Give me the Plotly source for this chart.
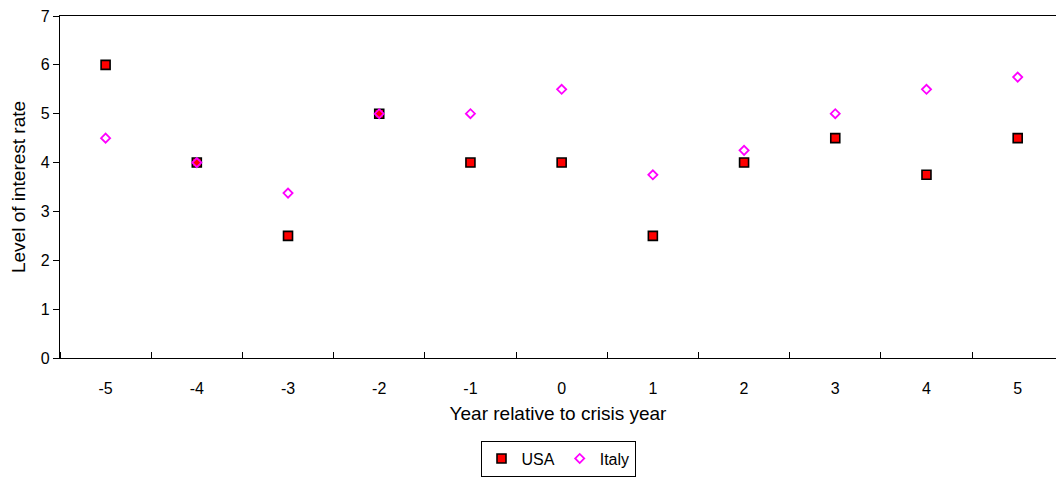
import plotly.graph_objects as go

years = [-5, -4, -3, -2, -1, 0, 1, 2, 3, 4, 5]
year_labels = ["-5", "-4", "-3", "-2", "-1", "0", "1", "2", "3", "4", "5"]
usa = [6, 4, 2.5, 5, 4, 4, 2.5, 4, 4.5, 3.75, 4.5]
italy = [4.5, 4, 3.375, 5, 5, 5.5, 3.75, 4.25, 5, 5.5, 5.75]

font_family = "Liberation Sans, Arial, sans-serif"

fig = go.Figure()
fig.add_trace(go.Scatter(
    x=years, y=usa, mode="markers", name="USA",
    marker=dict(symbol="square", size=9, color="#FF0000",
                line=dict(color="#000000", width=1.6)),
))
fig.add_trace(go.Scatter(
    x=years, y=italy, mode="markers", name="Italy",
    marker=dict(symbol="diamond-open", size=7, color="#FF00FF",
                line=dict(color="#FF00FF", width=1.8)),
))

fig.update_layout(
    width=1056, height=478,
    margin=dict(l=60, r=0, t=16, b=120),
    paper_bgcolor="white", plot_bgcolor="white",
    font=dict(family=font_family, size=16, color="black"),
    showlegend=True,
    legend=dict(
        orientation="h", x=0.5, xanchor="center",
        yref="container", y=0.003, yanchor="bottom",
        bordercolor="black", borderwidth=1, font=dict(size=16),
        itemwidth=30, tracegroupgap=0,
    ),
    xaxis=dict(
        range=[-5.5, 5.42], tickmode="array", tickvals=years, ticktext=year_labels,
        # invisible major ticks keep the category labels clear of the axis
        ticks="outside", ticklen=16, tickcolor="rgba(0,0,0,0)",
        showgrid=False, zeroline=False, automargin=False,
        showline=True, linecolor="black", linewidth=1.3, mirror=True,
        minor=dict(ticks="inside", tick0=-5.5, dtick=1, ticklen=6,
                   tickcolor="black", tickwidth=1, showgrid=False),
        title=dict(text="Year relative to crisis year", standoff=10),
        tickfont=dict(size=16),
    ),
    yaxis=dict(
        range=[0, 7], dtick=1, ticks="outside", ticklen=6, tickcolor="black",
        showgrid=False, zeroline=False, automargin=False,
        showline=True, linecolor="black", linewidth=1.3,
        title=dict(text="Level of interest rate", standoff=10),
        tickfont=dict(size=16),
    ),
)

fig.write_html("out.html")
